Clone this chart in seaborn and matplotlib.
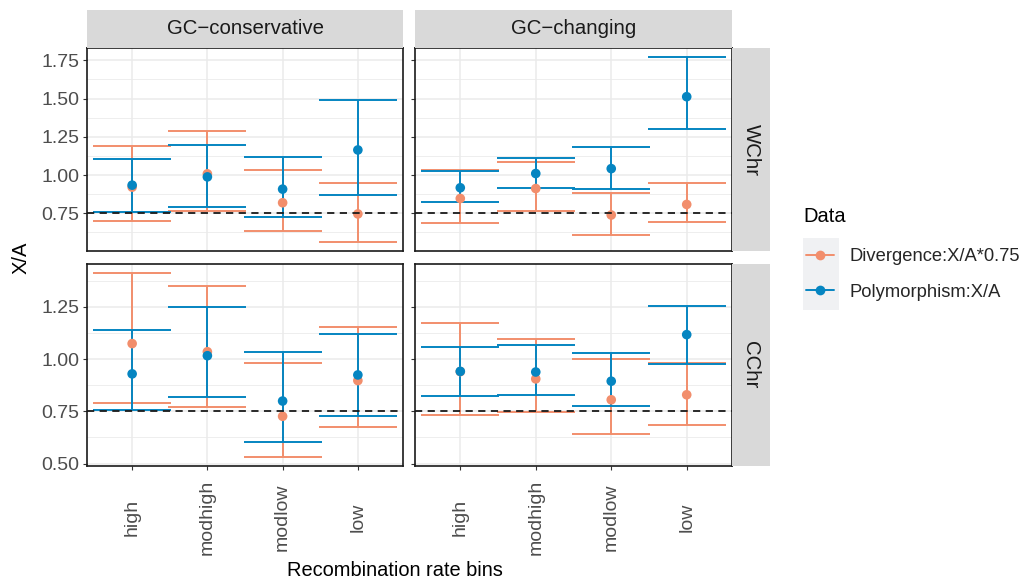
import numpy as np
import pandas as pd
import seaborn as sns
import matplotlib
matplotlib.use("Agg")
import matplotlib.pyplot as plt
from matplotlib.lines import Line2D
from matplotlib.patches import Rectangle

# ---------------- data ----------------
bins = ["high", "modhigh", "modlow", "low"]
gc_types = ["GC\u2212conservative", "GC\u2212changing"]
chroms = ["WChr", "CChr"]
series = ["Divergence:X/A*0.75", "Polymorphism:X/A"]

# WChr, GC-conservative
wc_div_mean = [0.921, 1.008, 0.819, 0.746]
wc_div_lo = [0.700, 0.763, 0.635, 0.564]
wc_div_hi = [1.192, 1.287, 1.036, 0.947]
wc_pol_mean = [0.934, 0.988, 0.908, 1.164]
wc_pol_lo = [0.761, 0.793, 0.726, 0.869]
wc_pol_hi = [1.103, 1.198, 1.116, 1.493]
# WChr, GC-changing
wg_div_mean = [0.847, 0.912, 0.739, 0.808]
wg_div_lo = [0.687, 0.763, 0.609, 0.692]
wg_div_hi = [1.031, 1.083, 0.884, 0.949]
wg_pol_mean = [0.917, 1.010, 1.042, 1.512]
wg_pol_lo = [0.821, 0.915, 0.912, 1.302]
wg_pol_hi = [1.025, 1.114, 1.183, 1.770]
# CChr, GC-conservative
cc_div_mean = [1.074, 1.035, 0.726, 0.897]
cc_div_lo = [0.791, 0.772, 0.532, 0.674]
cc_div_hi = [1.411, 1.351, 0.983, 1.152]
cc_pol_mean = [0.929, 1.016, 0.799, 0.924]
cc_pol_lo = [0.755, 0.820, 0.603, 0.725]
cc_pol_hi = [1.139, 1.248, 1.033, 1.122]
# CChr, GC-changing
cg_div_mean = [0.940, 0.905, 0.805, 0.829]
cg_div_lo = [0.734, 0.745, 0.639, 0.682]
cg_div_hi = [1.174, 1.098, 1.000, 0.983]
cg_pol_mean = [0.941, 0.938, 0.894, 1.117]
cg_pol_lo = [0.824, 0.826, 0.774, 0.976]
cg_pol_hi = [1.058, 1.068, 1.027, 1.255]

y_ticks_top = [0.75, 1.00, 1.25, 1.50, 1.75]
y_ticks_bot = [0.50, 0.75, 1.00, 1.25]
ref_line = 0.75

rows = []
blocks = {
    ("WChr", gc_types[0]): [(wc_div_mean, wc_div_lo, wc_div_hi), (wc_pol_mean, wc_pol_lo, wc_pol_hi)],
    ("WChr", gc_types[1]): [(wg_div_mean, wg_div_lo, wg_div_hi), (wg_pol_mean, wg_pol_lo, wg_pol_hi)],
    ("CChr", gc_types[0]): [(cc_div_mean, cc_div_lo, cc_div_hi), (cc_pol_mean, cc_pol_lo, cc_pol_hi)],
    ("CChr", gc_types[1]): [(cg_div_mean, cg_div_lo, cg_div_hi), (cg_pol_mean, cg_pol_lo, cg_pol_hi)],
}
for (chrom, gc), sers in blocks.items():
    for sname, (m, lo, hi) in zip(series, sers):
        for b, mm, l, h in zip(bins, m, lo, hi):
            rows.append(dict(chrom=chrom, gc=gc, bin=b, Data=sname, mean=mm, lo=l, hi=h))
df = pd.DataFrame(rows)

# ---------------- style ----------------
sns.set_theme(style="white")
plt.rcParams["font.family"] = ["Liberation Sans", "DejaVu Sans"]
palette = {series[0]: "#F28E6C", series[1]: "#0585C1"}

W, H = 1024, 585
fig = plt.figure(figsize=(W / 100, H / 100), dpi=100)

def fx(px):
    return px / W

def fy(px):
    return 1 - px / H

col_x = [(87, 403), (415, 732)]
row_y = [(48, 251), (264, 466)]
strip_top = (10, 48)
strip_right = (732, 770)
TICK_FS = 14.0

def expand(lo, hi):
    r = hi - lo
    return lo - 0.05 * r, hi + 0.05 * r

for ri, chrom in enumerate(chroms):
    sub_row = df[df.chrom == chrom]
    ylim = expand(sub_row.lo.min(), sub_row.hi.max())
    yt = y_ticks_top if ri == 0 else y_ticks_bot
    for ci, gc in enumerate(gc_types):
        x0, x1 = col_x[ci]
        y0, y1 = row_y[ri]
        ax = fig.add_axes([fx(x0), fy(y1), fx(x1 - x0), (y1 - y0) / H])
        sub = sub_row[sub_row.gc == gc]
        for sname in series:
            s = sub[sub.Data == sname]
            ax.errorbar(s["bin"].tolist(), s["mean"].values,
                        yerr=[s["mean"].values - s["lo"].values, s["hi"].values - s["mean"].values],
                        fmt="none", ecolor=palette[sname], elinewidth=1.4,
                        capsize=28, capthick=1.4, zorder=3)
        sns.scatterplot(data=sub, x="bin", y="mean", hue="Data", hue_order=series,
                        palette=palette, s=48, edgecolor="none", linewidth=0,
                        legend=False, ax=ax, zorder=4)
        ax.axhline(ref_line, color="#1A1A1A", lw=1.3, ls=(0, (4, 3)), zorder=5)
        ax.set_xlim(-0.6, 3.6)
        ax.set_ylim(*ylim)
        ax.set_yticks(yt)
        minors = [v + 0.125 for v in yt] + [yt[0] - 0.125]
        ax.set_yticks([m for m in minors if ylim[0] < m < ylim[1]], minor=True)
        ax.set_xticks(range(len(bins)))
        ax.grid(which="major", color="#EBEBEB", lw=1.1, zorder=0)
        ax.grid(which="minor", axis="y", color="#EBEBEB", lw=0.6, zorder=0)
        ax.set_axisbelow(True)
        ax.set_xlabel("")
        ax.set_ylabel("")
        for sp in ax.spines.values():
            sp.set_visible(True)
            sp.set_color("#1A1A1A")
            sp.set_linewidth(1.2)
        ax.tick_params(axis="y", which="major", length=2.75, width=0.8, color="#333333",
                       labelsize=TICK_FS, labelcolor="#4D4D4D", pad=2.5, left=True,
                       labelleft=(ci == 0))
        ax.tick_params(axis="y", which="minor", length=0, left=False)
        if ci == 0:
            ax.set_yticklabels([f"{v:.2f}" for v in yt])
        if ri == 1:
            ax.tick_params(axis="x", length=2.75, width=0.8, color="#333333",
                           labelsize=TICK_FS, labelcolor="#4D4D4D", pad=34, bottom=True)
            ax.set_xticklabels(bins, rotation=90, va="center", ha="center")
        else:
            ax.tick_params(axis="x", bottom=False, labelbottom=False)

        # top strips
        if ri == 0:
            sax = fig.add_axes([fx(x0), fy(strip_top[1]), fx(x1 - x0), (strip_top[1] - strip_top[0]) / H])
            sax.set_facecolor("#D9D9D9")
            sax.set_xticks([]); sax.set_yticks([])
            for sp in sax.spines.values():
                sp.set_visible(False)
            sax.text(0.5, 0.5, gc, ha="center", va="center", fontsize=14.7,
                     color="#1A1A1A", transform=sax.transAxes)
        # right strips
        if ci == 1:
            rax = fig.add_axes([fx(strip_right[0]), fy(y1), fx(strip_right[1] - strip_right[0]), (y1 - y0) / H])
            rax.set_facecolor("#D9D9D9")
            rax.set_xticks([]); rax.set_yticks([])
            for sp in rax.spines.values():
                sp.set_visible(False)
            rax.text(0.5, 0.5, chrom, ha="center", va="center", rotation=-90, fontsize=14.7,
                     color="#1A1A1A", transform=rax.transAxes)

# axis titles
fig.text(fx(21), fy(258), "X/A", rotation=90, ha="center", va="center", fontsize=14.5, color="black")
fig.text(fx(395), fy(570), "Recombination rate bins", ha="center", va="center", fontsize=14.4, color="black")

# legend
fig.text(fx(803), fy(217), "Data", ha="left", va="center", fontsize=14.5, color="black")
fig.patches.append(Rectangle((fx(803), fy(310)), fx(36), 72 / H, transform=fig.transFigure,
                             facecolor="#F0F1F3", edgecolor="none", zorder=0))
handles = [Line2D([0], [0], color=palette[s], lw=1.4, marker="o", markersize=7,
                  markeredgewidth=0) for s in series]
fig.legend(handles, series, loc="center left", bbox_to_anchor=(fx(806), fy(274.5)),
           frameon=False, fontsize=13.2, handlelength=1.5, handletextpad=0.85,
           labelspacing=1.0, borderpad=0, borderaxespad=0)

fig.savefig("out.png", dpi=100)
